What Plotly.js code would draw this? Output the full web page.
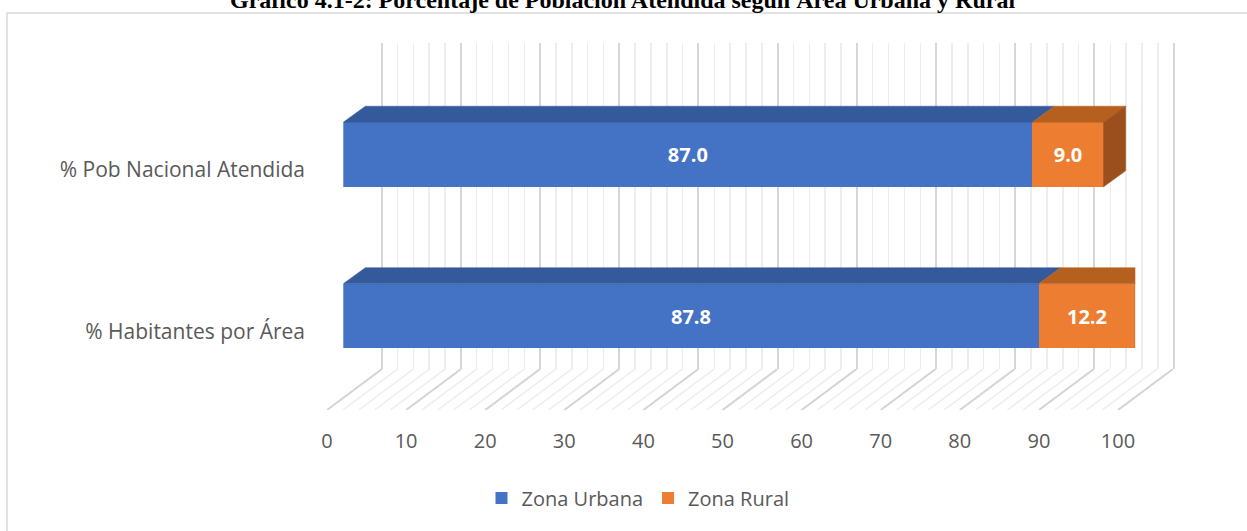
<!DOCTYPE html>
<html>
<head>
<meta charset="utf-8">
<script src="https://cdn.plot.ly/plotly-3.0.1.min.js"></script>
<style>
  html, body { margin: 0; padding: 0; background: #fff; }
  #graph { width: 1247px; height: 531px; }
</style>
</head>
<body>
<div id="graph"></div>
<script>
// categories, bottom to top
var categories = ['% Habitantes por Área', '% Pob Nacional Atendida'];
// Zona Urbana
var urbana = [87.8, 87.0];
// Zona Rural
var rural = [12.2, 9.0];
// x axis ticks
var tickVals = [0, 10, 20, 30, 40, 50, 60, 70, 80, 90, 100];
var tickText = ['0', '10', '20', '30', '40', '50', '60', '70', '80', '90', '100'];

var W = 1247, H = 531;
function px(p) { return p / W; }
function py(p) { return 1 - p / H; }

var font = 'Open Sans, Noto Sans, sans-serif';
var grey = '#595959';

// 3d look: bar thickness, bar depth and floor depth in axis units
var barW = 0.40;
var depthX = 2.78;
var depthY = 0.099;
var floorShift = 6.95;

var blue = '#4472C4', blueTop = '#355A9B';
var orange = '#ED7D31', orangeTop = '#B5601F', orangeSide = '#9B4F1C';

function face(xs, ys, color) {
	return {
		x: xs, y: ys, xaxis: 'x3', yaxis: 'y3',
		type: 'scatter', mode: 'lines', fill: 'toself', fillcolor: color,
		line: { color: color, width: 0.5 },
		showlegend: false, hoverinfo: 'skip'
	};
}

var trace1 = {
	x: urbana, y: [0, 1], xaxis: 'x3', yaxis: 'y3',
	orientation: 'h', type: 'bar', width: barW,
	name: 'Zona Urbana',
	marker: { color: blue },
	text: urbana.map(function(v) { return v.toFixed(1); }),
	textposition: 'inside',
	insidetextanchor: 'middle',
	textfont: { color: '#ffffff', size: 20, family: font, weight: 'bold' },
	hoverinfo: 'skip'
};

var trace2 = {
	x: rural, y: [0, 1], xaxis: 'x3', yaxis: 'y3',
	orientation: 'h', type: 'bar', width: barW,
	name: 'Zona Rural',
	marker: { color: orange },
	text: rural.map(function(v) { return v.toFixed(1); }),
	textposition: 'inside',
	insidetextanchor: 'middle',
	textfont: { color: '#ffffff', size: 20, family: font, weight: 'bold' },
	hoverinfo: 'skip'
};

// top and side faces, built from the same values
var faces = [];
for (var i = 0; i < categories.length; i++) {
	var yTop = i + barW / 2, yBot = i - barW / 2;
	var a = urbana[i], b = urbana[i] + rural[i];
	faces.push(face([0, a, a + depthX, depthX, 0], [yTop, yTop, yTop + depthY, yTop + depthY, yTop], blueTop));
	faces.push(face([a, b, b + depthX, a + depthX, a], [yTop, yTop, yTop + depthY, yTop + depthY, yTop], orangeTop));
	faces.push(face([b, b + depthX, b + depthX, b, b], [yTop, yTop + depthY, yBot + depthY, yBot, yTop], orangeSide));
}

// floor lines
var majX = [], majY = [], minX = [], minY = [];
for (var v = 0; v <= 100; v += 2) {
	if (v % 10 === 0) {
		majX.push(v, v + floorShift, null); majY.push(0, 1, null);
	} else {
		minX.push(v, v + floorShift, null); minY.push(0, 1, null);
	}
}
var floorMinor = {
	x: minX, y: minY, xaxis: 'x2', yaxis: 'y2', type: 'scatter', mode: 'lines',
	line: { color: '#ededed', width: 1.5 }, showlegend: false, hoverinfo: 'skip'
};
var floorMajor = {
	x: majX, y: majY, xaxis: 'x2', yaxis: 'y2', type: 'scatter', mode: 'lines',
	line: { color: '#d4d4d4', width: 2 }, showlegend: false, hoverinfo: 'skip'
};

// back wall: grid only
var wall = { x: [50], y: [0.5], type: 'scatter', mode: 'markers', marker: { opacity: 0 }, showlegend: false, hoverinfo: 'skip' };

// category labels axis
var labels = {
	x: [50, 50], y: [0, 1], xaxis: 'x3', yaxis: 'y4', type: 'scatter', mode: 'markers',
	marker: { opacity: 0 }, showlegend: false, hoverinfo: 'skip'
};

var data = [wall, floorMinor, floorMajor, trace1, trace2].concat(faces).concat([labels]);

var layout = {
	width: W,
	height: H,
	margin: { l: 0, r: 0, t: 0, b: 0 },
	paper_bgcolor: '#ffffff',
	plot_bgcolor: 'rgba(0,0,0,0)',
	showlegend: true,
	barmode: 'stack',
	font: { family: font, color: grey },
	xaxis: {
		domain: [px(377.74), px(1177.64)],
		range: [-0.5, 100.5],
		anchor: 'y',
		tick0: 0,
		dtick: 10,
		showgrid: true,
		gridcolor: '#d6d6d6',
		gridwidth: 2,
		minor: { dtick: 2, showgrid: true, gridcolor: '#ededed', gridwidth: 1.5 },
		zeroline: false,
		showticklabels: false,
		ticks: '',
		fixedrange: true
	},
	yaxis: {
		domain: [py(369), py(43)],
		range: [0, 1],
		anchor: 'x',
		showgrid: false,
		zeroline: false,
		showticklabels: false,
		ticks: '',
		fixedrange: true
	},
	xaxis2: {
		domain: [px(323.05), px(1177.33)],
		range: [-0.5, 107.5],
		anchor: 'y2',
		tickvals: tickVals,
		ticktext: tickText,
		tickfont: { size: 20, color: grey, family: font },
		showgrid: false,
		zeroline: false,
		ticks: 'outside',
		ticklen: 13,
		tickcolor: 'rgba(0,0,0,0)',
		fixedrange: true
	},
	yaxis2: {
		domain: [py(410), py(369)],
		range: [0, 1],
		anchor: 'x2',
		showgrid: false,
		zeroline: false,
		showticklabels: false,
		ticks: '',
		fixedrange: true
	},
	xaxis3: {
		domain: [px(343.3), px(1135.3)],
		range: [0, 100],
		anchor: 'y3',
		showgrid: false,
		zeroline: false,
		showticklabels: false,
		ticks: '',
		fixedrange: true
	},
	yaxis3: {
		domain: [py(412.9), py(57.6)],
		range: [-0.6, 1.6],
		anchor: 'x3',
		showgrid: false,
		zeroline: false,
		showticklabels: false,
		ticks: '',
		fixedrange: true
	},
	yaxis4: {
		domain: [py(428.4), py(73.1)],
		range: [-0.6, 1.6],
		anchor: 'free',
		position: px(305),
		side: 'left',
		tickvals: [0, 1],
		ticktext: categories,
		tickfont: { size: 21, color: grey, family: font },
		showgrid: false,
		zeroline: false,
		showline: false,
		ticks: '',
		fixedrange: true
	},
	legend: {
		orientation: 'h',
		x: px(638),
		xanchor: 'center',
		y: py(498),
		yanchor: 'middle',
		font: { size: 20, color: grey, family: font },
		traceorder: 'normal'
	},
	annotations: [{
		text: '<b>Gráfico 4.1-2: Porcentaje de Población Atendida según Área Urbana y Rural</b>',
		xref: 'paper',
		yref: 'paper',
		x: px(622),
		y: py(15),
		xanchor: 'center',
		yanchor: 'bottom',
		showarrow: false,
		font: { family: 'Liberation Serif, DejaVu Serif, serif', size: 24, color: '#000000' }
	}],
	shapes: [{
		type: 'rect',
		xref: 'paper',
		yref: 'paper',
		x0: px(7),
		x1: 1.01,
		y0: -0.01,
		y1: py(13),
		line: { color: '#d9d9d9', width: 1.5 },
		fillcolor: 'rgba(0,0,0,0)',
		layer: 'below'
	}]
};

Plotly.newPlot('graph', data, layout, { staticPlot: true });
</script>
</body>
</html>
